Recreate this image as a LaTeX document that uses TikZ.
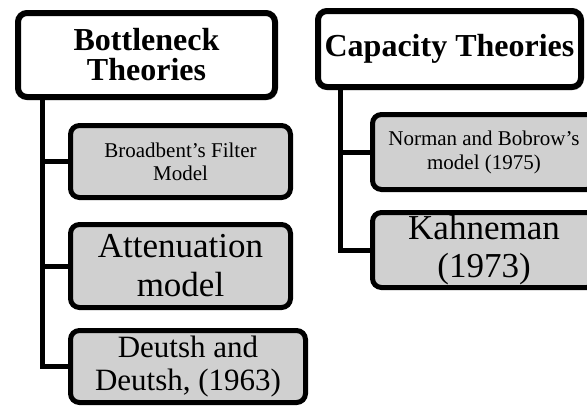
\documentclass[tikz,border=0pt]{standalone}
\usepackage{fontspec}
\setmainfont{Liberation Serif}
\usetikzlibrary{shadows}
\definecolor{boxgray}{RGB}{208,208,208}

\begin{document}
\begin{tikzpicture}[x=1pt, y=-1pt]
	\useasboundingbox (0,0) rectangle (587,407);
	
	\tikzstyle{head}=[draw=black, fill=white, line width=6pt, rounded corners=9pt, align=center, inner sep=0pt, font=\fontsize{32}{30}\selectfont\bfseries, drop shadow={shadow xshift=2pt, shadow yshift=-3pt, opacity=.35}]
	\tikzstyle{item}=[draw=black, fill=boxgray, line width=5pt, rounded corners=9pt, align=center, inner sep=0pt, drop shadow={shadow xshift=1.5pt, shadow yshift=-2pt, opacity=.25}]
	\tikzstyle{link}=[draw=black, line width=5pt]
	
	% BOTTLENECK
	\path (146.5, 55) node[head, minimum width=257pt, minimum height=84pt] (bott) {Bottleneck\\Theories};
	\path (180.5, 161.5) node[item, minimum width=220pt, minimum height=72pt, font=\fontsize{21}{23}\selectfont] (broad) {Broadbent's Filter\\Model};
	\path (180.5, 266) node[item, minimum width=220pt, minimum height=83pt, font=\fontsize{35}{39}\selectfont] (atten) {Attenuation\\model};
	\path (188, 366.5) node[item, minimum width=235pt, minimum height=72pt, font=\fontsize{31}{33}\selectfont] (deut) {Deutsh and\\Deutsh, (1963)};
	\draw[link] ([xshift=27pt]bott.south west) |- (broad.west);
	\draw[link] ([xshift=27pt]bott.south west) |- (atten.west);
	\draw[link] ([xshift=27pt]bott.south west) |- (deut.west);
	
	% CAPACITY
	\path (449.5, 49) node[head, minimum width=263pt, minimum height=76pt] (capa) {Capacity Theories};
	\path (484, 152) node[item, minimum width=223pt, minimum height=75pt, font=\fontsize{21}{24}\selectfont] (norm) {Norman and Bobrow's\\model (1975)};
	\path (484, 250) node[item, minimum width=223pt, minimum height=75pt, font=\fontsize{35}{38}\selectfont] (kahn) {Kahneman\\(1973)};
	\draw[link] ([xshift=25pt]capa.south west) |- (norm.west);
	\draw[link] ([xshift=25pt]capa.south west) |- (kahn.west);
	
\end{tikzpicture}
\end{document}
